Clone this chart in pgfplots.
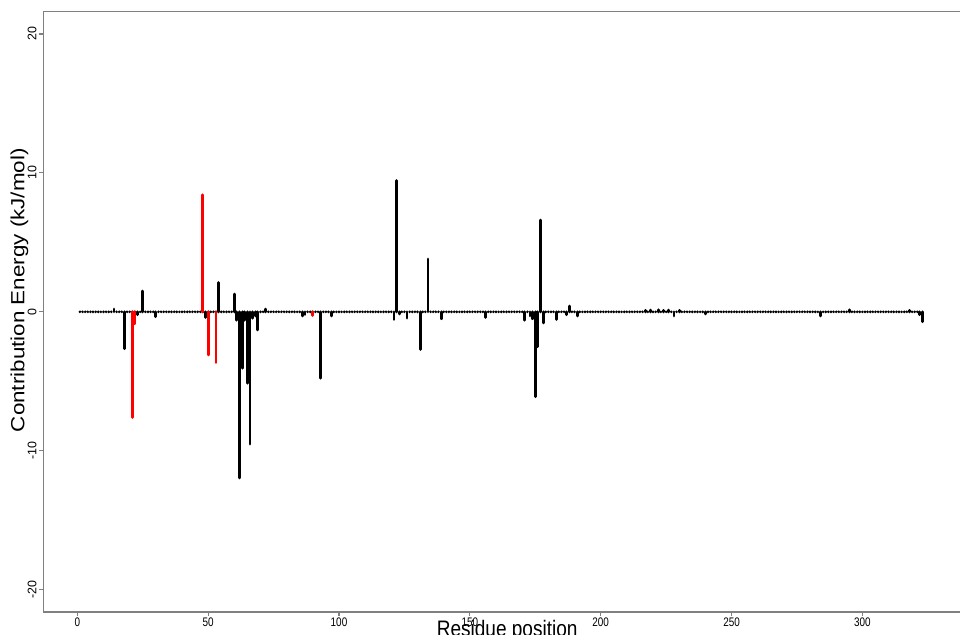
\documentclass[border=0pt]{standalone}
\usepackage{fontspec}
\setmainfont{Liberation Sans}
\usepackage{graphicx}
\usepackage{pgfplots}
\pgfplotsset{compat=1.18}
\definecolor{spine}{RGB}{128,128,128}
\definecolor{redbar}{RGB}{255,0,0}
\begin{document}
\begin{tikzpicture}
\begin{axis}[
  at={(0,0)}, anchor=south west,
  scale only axis,
  width=459.25pt, height=300.15pt,
  xmin=-13, xmax=338, ymin=-21.6, ymax=21.6,
  xtick={0,50,100,150,200,250,300},
  ytick={-20,-10,0,10,20},
  axis line style={spine, line width=0.75pt},
  tick style={spine, line width=0.6pt},
  tick align=outside, major tick length=2pt,
  tick pos=left,
  tick label style={font=\fontsize{6.2}{7}\selectfont, black},
  /pgf/number format/assume math mode=true,
  xticklabel={\scalebox{0.8}[1]{\pgfmathprintnumber{\tick}}},
  xticklabel style={anchor=north, inner sep=0.8pt},
  yticklabel style={rotate=90, anchor=south, inner sep=1.2pt},
  xlabel={\scalebox{0.85}[1]{Residue position}},
  xlabel style={at={(axis description cs:0.505,-0.0133)}, anchor=north, inner sep=0pt, font=\fontsize{11.2}{13}\selectfont},
  ylabel={\scalebox{1}[0.85]{Contribution Energy (kJ/mol)}},
  ylabel style={at={(axis description cs:-0.0261,0.536)}, anchor=center, inner sep=0pt, font=\fontsize{11.2}{13}\selectfont},
]
\addplot[ycomb, black, line width=1.45pt, line cap=round] coordinates {
(1,0)(2,0)(3,0)(4,0)(5,0)(6,0)(7,0)(8,0)(9,0)(10,0)
(11,0)(12,0)(13,0)(14,0.2)(15,0)(16,0)(17,0)(18,-2.65)(19,0)(20,0)
(21,0)(22,0)(23,-0.2)(24,0)(25,1.5)(26,0)(27,0)(28,0)(29,0)(30,-0.35)
(31,0)(32,0)(33,0)(34,0)(35,0)(36,0)(37,0)(38,0)(39,0)(40,0)
(41,0)(42,0)(43,0)(44,0)(45,0)(46,0)(47,0)(48,0)(49,-0.4)(50,0)
(51,0)(52,0)(53,0)(54,2.1)(55,0)(56,0)(57,0)(58,0)(59,0)(60,1.27)
(61,-0.6)(62,-11.95)(63,-4.05)(64,-0.6)(65,-5.13)(66,-9.52)(67,-0.45)(68,-0.3)(69,-1.3)(70,0)
(71,0)(72,0.2)(73,0)(74,0)(75,0)(76,0)(77,0)(78,0)(79,0)(80,0)
(81,0)(82,0)(83,0)(84,0)(85,0)(86,-0.3)(87,-0.2)(88,0)(89,0)(90,0)
(91,0)(92,0)(93,-4.77)(94,0)(95,0)(96,0)(97,-0.3)(98,0)(99,0)(100,0)
(101,0)(102,0)(103,0)(104,0)(105,0)(106,0)(107,0)(108,0)(109,0)(110,0)
(111,0)(112,0)(113,0)(114,0)(115,0)(116,0)(117,0)(118,0)(119,0)(120,0)
(121,-0.55)(122,9.45)(123,-0.15)(124,0)(125,0)(126,-0.45)(127,0)(128,0)(129,0)(130,0)
(131,-2.7)(132,0)(133,0)(134,3.8)(135,0)(136,0)(137,0)(138,0)(139,-0.5)(140,0)
(141,0)(142,0)(143,0)(144,0)(145,0)(146,0)(147,0)(148,0)(149,0)(150,0)
(151,0)(152,0)(153,0)(154,0)(155,0)(156,-0.4)(157,0)(158,0)(159,0)(160,0)
(161,0)(162,0)(163,0)(164,0)(165,0)(166,0)(167,0)(168,0)(169,0)(170,0)
(171,-0.6)(172,0)(173,-0.3)(174,-0.5)(175,-6.1)(176,-2.5)(177,6.6)(178,-0.8)(179,0)(180,0)
(181,0)(182,0)(183,-0.55)(184,0)(185,0)(186,0)(187,-0.2)(188,0.42)(189,0)(190,0)
(191,-0.3)(192,0)(193,0)(194,0)(195,0)(196,0)(197,0)(198,0)(199,0)(200,0)
(201,0)(202,0)(203,0)(204,0)(205,0)(206,0)(207,0)(208,0)(209,0)(210,0)
(211,0)(212,0)(213,0)(214,0)(215,0)(216,0)(217,0.1)(218,0)(219,0.12)(220,0)
(221,0)(222,0.15)(223,0)(224,0.1)(225,0)(226,0.12)(227,0)(228,-0.3)(229,0)(230,0.1)
(231,0)(232,0)(233,0)(234,0)(235,0)(236,0)(237,0)(238,0)(239,0)(240,-0.15)
(241,0)(242,0)(243,0)(244,0)(245,0)(246,0)(247,0)(248,0)(249,0)(250,0)
(251,0)(252,0)(253,0)(254,0)(255,0)(256,0)(257,0)(258,0)(259,0)(260,0)
(261,0)(262,0)(263,0)(264,0)(265,0)(266,0)(267,0)(268,0)(269,0)(270,0)
(271,0)(272,0)(273,0)(274,0)(275,0)(276,0)(277,0)(278,0)(279,0)(280,0)
(281,0)(282,0)(283,0)(284,-0.3)(285,0)(286,0)(287,0)(288,0)(289,0)(290,0)
(291,0)(292,0)(293,0)(294,0)(295,0.15)(296,0)(297,0)(298,0)(299,0)(300,0)
(301,0)(302,0)(303,0)(304,0)(305,0)(306,0)(307,0)(308,0)(309,0)(310,0)
(311,0)(312,0)(313,0)(314,0)(315,0)(316,0)(317,0)(318,0.1)(319,0)(320,0)
(321,0)(322,-0.2)(323,-0.7)
};
\addplot[ycomb, redbar, line width=1.45pt, line cap=round] coordinates {
(21,-7.6)(22,-0.86)(48,8.42)(50,-3.1)(53,-3.65)(90,-0.25)
};
\end{axis}
\pgfresetboundingbox
\useasboundingbox (-21.65pt,-11.5pt) rectangle (458.35pt,306pt);
\end{tikzpicture}
\end{document}
